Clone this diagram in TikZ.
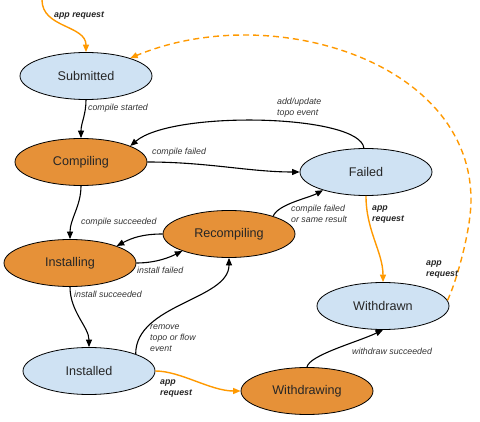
\documentclass[tikz,border=0pt]{standalone}
\usepackage{fontspec}
\setmainfont{Liberation Sans}
\usetikzlibrary{shapes.geometric,arrows.meta}
\definecolor{lblue}{HTML}{CFE2F3}
\definecolor{lorange}{HTML}{E69138}
\definecolor{aorange}{HTML}{FF9900}
\definecolor{lbltext}{HTML}{333333}
\begin{document}
\begin{tikzpicture}[x=1pt,y=-1pt,
  state/.style={ellipse,draw=black,line width=0.8pt,minimum width=132pt,minimum height=47pt,inner sep=0pt,font=\fontsize{12.6}{15}\selectfont,text=black!85},
  bstate/.style={state,fill=lblue},
  ostate/.style={state,fill=lorange},
  tr/.style={line width=1.1pt,-{Triangle[length=7.5pt,width=6pt]}},
  otr/.style={tr,draw=aorange,line width=1.4pt},
  lbl/.style={font=\fontsize{8.8}{11}\selectfont\itshape,text=lbltext,align=left,anchor=west,inner sep=0pt},
  olbl/.style={lbl,font=\fontsize{8.8}{11}\selectfont\bfseries\itshape,text=black!85}
]
\useasboundingbox (0,0) rectangle (480,422);

\node[bstate] (sub) at (86,76) {Submitted};
\node[ostate] (comp) at (81,162) {Compiling};
\node[ostate] (inst) at (70,263) {Installing};
\node[ostate] (rec) at (229,234) {Recompiling};
\node[bstate] (fail) at (366,172) {Failed};
\node[bstate] (wd) at (383,306) {Withdrawn};
\node[ostate] (wdg) at (307,391) {Withdrawing};
\node[bstate] (ind) at (89,371) {Installed};

\coordinate (start) at (42,0);
\coordinate (via) at (471,200);

% app request into Submitted
\draw[otr] (start) .. controls +(0,28) and +(0,-27) .. (sub.north);
\node[olbl] (l1) at (54,16) {app request};

% dashed return
\draw[otr,dash pattern=on 6pt off 4pt] (wd.5) .. controls +(9,-19) and +(0,30) .. (via)
   .. controls +(0,-140) and +(139,-58) .. (sub.22);
\node[olbl] (l2) at (426,270) {app\\request};

% Submitted -> Compiling
\draw[tr] (sub.south) .. controls +(0,15) and +(0,-15) .. (comp.north);
\node[lbl] (l3) at (88,108) {compile started};

% Failed -> Compiling
\draw[tr] (fail.95) .. controls +(-4,-34) and +(42,-36) .. (comp.18);
\node[lbl] (l4) at (277,107.5) {add/update\\topo event};

% Compiling -> Failed
\draw[tr] (comp.east) .. controls +(60,0) and +(-50,0) .. (fail.west);
\node[lbl] (l5) at (152,152) {compile failed};

% Compiling -> Installing
\draw[tr] (comp.south) .. controls +(0,20) and +(0,-20) .. (inst.north);
\node[lbl] (l6) at (81,222) {compile succeeded};

% Recompiling -> Installing
\draw[tr] (rec.west) .. controls +(-20,0) and +(15,-8) .. (inst.20);

% Installing -> Recompiling
\draw[tr] (inst.east) .. controls +(20,0) and +(-12,6) .. (rec.200);
\node[lbl] (l7) at (137,270) {install failed};

% Recompiling -> Failed
\draw[tr] (rec.22) .. controls +(5,-12) and +(-15,8) .. (fail.203);
\node[lbl] (l8) at (291,213.5) {compile failed\\or same result};

% Installing -> Installed
\draw[tr] (inst.south) .. controls +(0,25) and +(0,-20) .. (ind.north);
\node[lbl] (l9) at (74,294) {install succeeded};

% Installed -> Recompiling
\draw[tr] (ind.20) .. controls +(0,-50) and +(0,42) .. (rec.south);
\node[lbl] (l10) at (150,338) {remove\\topo or flow\\event};

% Installed -> Withdrawing
\draw[otr] (ind.east) .. controls +(25,0) and +(-30,0) .. (wdg.west);
\node[olbl] (l11) at (160,388.5) {app\\request};

% Failed -> Withdrawn
\draw[otr] (fail.south) .. controls +(0,35) and +(0,-30) .. (wd.north);
\node[olbl] (l12) at (372,215) {app\\request};

% Withdrawing -> Withdrawn
\draw[tr] (wdg.north) .. controls +(2,-12) and +(-25,12) .. (wd.south);
\node[lbl] (l13) at (352,351) {withdraw succeeded};
\end{tikzpicture}
\end{document}
